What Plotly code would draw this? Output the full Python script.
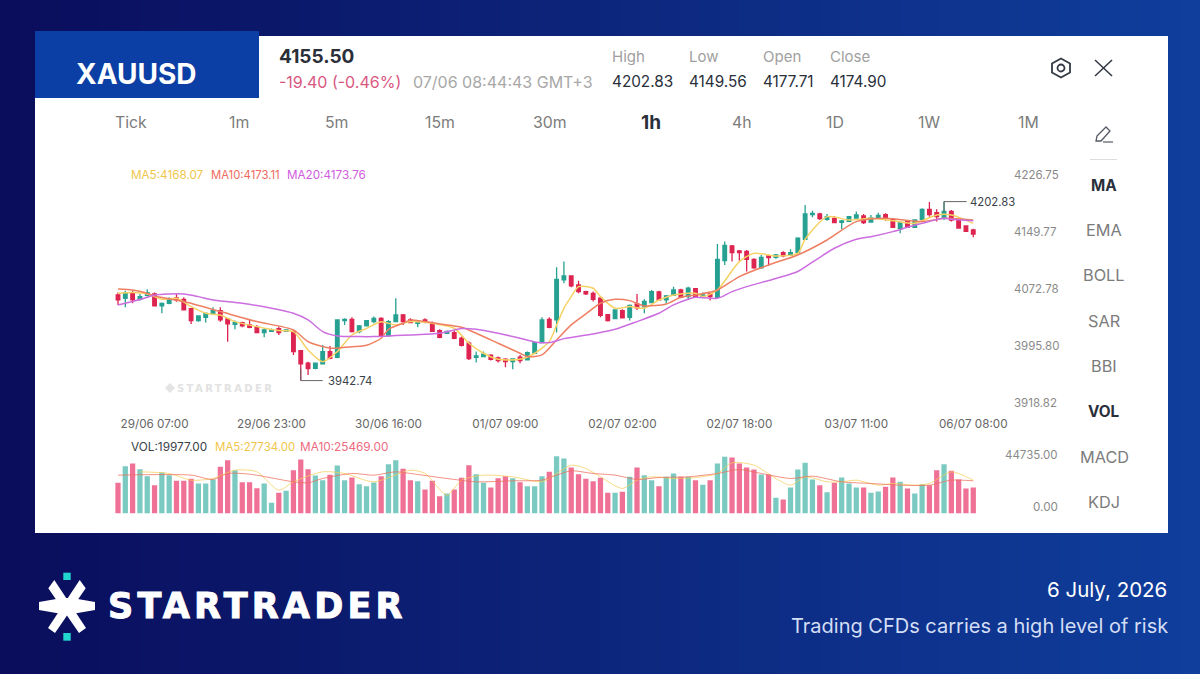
import plotly.graph_objects as go

# ---------- data ----------
opens = [4064.7,4060.2,4067.0,4058.9,4064.3,4066.1,4049.9,4053.5,4060.7,4058.9,4046.3,4030.1,4034.6,4039.1,4043.6,4032.3,4025.1,4027.4,4024.2,4021.1,
4013.9,4015.7,4019.3,4015.7,4015.2,3989.6,3972.5,3965.7,3971.6,3988.2,3980.6,4030.1,4031.9,4015.2,4022.9,4028.7,4033.2,4009.4,4028.7,4037.7,
4031.0,4026.5,4031.0,4026.5,4016.6,4013.0,4013.9,4006.3,3999.5,3980.6,3981.5,3983.3,3979.7,3977.9,3974.8,3980.6,3977.0,3986.0,4000.4,4031.9,
4031.0,4085.0,4090.4,4078.3,4069.3,4067.0,4060.3,4038.2,4032.8,4043.6,4034.6,4052.6,4049.0,4054.4,4068.8,4058.0,4064.3,4071.5,4062.5,4073.3,
4062.5,4066.1,4061.6,4111.1,4130.9,4124.2,4123.7,4112.9,4101.2,4117.4,4115.6,4121.9,4118.3,4121.9,4139.9,4173.2,4174.1,4166.9,4168.3,4162.9,
4164.2,4168.7,4171.4,4163.3,4168.7,4173.2,4166.9,4154.8,4163.8,4156.1,4166.9,4180.4,4175.9,4169.6,4177.7,4166.0,4157.9,4152.5]
highs = [4067.9,4070.6,4070.6,4066.1,4072.4,4067.9,4054.4,4061.6,4066.1,4061.6,4047.0,4036.4,4040.9,4048.1,4048.1,4033.2,4030.1,4028.7,4031.0,4024.2,
4019.7,4019.3,4022.0,4018.4,4017.5,3990.5,3974.7,3973.4,3997.2,3995.9,4031.9,4033.2,4034.6,4024.2,4031.0,4035.5,4034.6,4031.0,4060.2,4039.1,
4033.3,4031.0,4033.3,4028.8,4018.4,4016.6,4016.6,4008.5,4001.8,3988.3,3988.3,3984.7,3981.5,3979.3,3979.3,3983.8,3988.3,4001.8,4034.6,4034.6,
4102.1,4109.8,4091.3,4084.1,4070.6,4069.3,4063.4,4039.1,4045.4,4045.4,4051.7,4066.1,4058.9,4071.5,4070.6,4064.8,4076.0,4073.3,4076.0,4074.2,
4067.9,4067.9,4133.6,4136.8,4132.3,4125.5,4125.5,4114.3,4118.8,4119.2,4120.1,4123.7,4126.4,4142.6,4186.3,4178.6,4175.9,4174.1,4171.4,4166.0,
4171.4,4177.3,4174.1,4172.8,4175.9,4175.0,4168.7,4163.8,4165.1,4166.9,4181.8,4190.3,4180.4,4190.8,4179.5,4167.8,4158.8,4154.3]
lows = [4051.2,4048.1,4053.5,4057.1,4062.5,4049.0,4040.0,4052.1,4055.7,4043.6,4025.6,4028.7,4027.4,4038.2,4028.7,4001.7,4018.4,4021.1,4019.7,4013.0,
4007.6,4014.8,4010.7,4014.8,3983.7,3949.1,3956.7,3964.4,3970.7,3977.9,3979.2,4024.2,4013.9,4013.0,4022.0,4026.5,4008.5,4008.5,4027.8,4024.2,
4026.5,4021.1,4026.5,4014.8,4006.3,4012.1,4004.9,3995.0,3977.0,3973.4,3980.6,3976.1,3973.4,3967.1,3964.4,3972.5,3976.1,3985.1,3999.5,4019.8,
4013.9,4080.5,4075.1,4067.0,4064.8,4055.8,4034.6,4028.8,4031.9,4032.8,4030.1,4044.5,4040.0,4053.5,4057.1,4053.5,4063.4,4060.3,4058.9,4061.6,
4060.3,4057.1,4059.8,4105.3,4109.8,4111.1,4096.3,4100.3,4100.3,4103.9,4113.8,4115.6,4117.4,4121.0,4139.0,4169.6,4166.0,4165.1,4161.5,4153.4,
4163.3,4167.8,4160.6,4162.4,4167.8,4165.1,4155.2,4148.0,4155.2,4155.2,4166.0,4170.5,4163.8,4166.0,4163.8,4154.3,4149.8,4142.6]
closes = [4058.0,4067.9,4058.0,4062.5,4067.9,4049.9,4053.5,4058.9,4058.0,4044.5,4030.1,4036.4,4040.0,4043.6,4031.0,4025.6,4027.8,4022.9,4021.1,4013.9,
4017.5,4017.5,4013.9,4017.5,3988.2,3971.6,3965.3,3972.5,3988.2,3979.2,4031.0,4031.9,4015.2,4022.9,4030.1,4033.2,4009.4,4028.7,4037.7,4028.7,
4027.4,4030.1,4028.3,4015.7,4007.6,4015.7,4006.3,3996.8,3978.8,3982.4,3984.7,3977.9,3976.1,3974.8,3978.4,3976.1,3986.9,4000.4,4031.0,4021.1,
4085.9,4090.4,4076.9,4069.3,4066.1,4058.9,4037.3,4030.1,4044.5,4033.7,4050.8,4047.2,4056.2,4069.3,4058.0,4063.4,4071.5,4061.6,4073.8,4062.5,
4064.8,4062.5,4112.9,4131.8,4121.9,4121.9,4112.9,4101.2,4115.6,4115.2,4118.8,4117.4,4121.9,4141.3,4174.1,4175.0,4167.8,4170.5,4162.4,4164.7,
4170.5,4172.8,4162.4,4168.7,4172.3,4168.7,4156.1,4162.9,4156.1,4166.0,4180.4,4173.2,4170.5,4177.7,4166.0,4155.2,4150.7,4147.1]
volumes = [23451,36196,38235,33900,28549,21667,31353,29314,24980,24980,26510,22941,22941,26000,35686,40784,33137,23961,23961,19372,
22941,8157,15804,17333,33137,41294,33902,29059,25490,29569,36706,25490,27529,22431,20902,23706,28549,37725,40784,34157,
25490,24725,18353,24980,13255,15294,18353,27275,36961,30078,23451,19882,27020,28549,27020,23961,20902,20902,28549,31863,
43843,42059,35176,30078,26510,24725,27275,15804,15804,16569,28039,35176,29314,25490,20902,28039,30588,28039,28039,25490,
21921,25490,38235,43333,42824,38235,35176,33647,29824,29824,11980,10706,19882,33647,38745,26000,21667,16314,23451,27529,
22941,19882,19882,15804,16824,20392,27529,24216,19118,15294,22431,21667,33137,37725,32627,26000,19118,19977]

ma5_idx = [0,2,4,6,8,10,12,14,16,19,22,24,26,28,30,32,34,36,38,40,43,46,48,50,52,55,57,59,60,61,62,63,65,66,68,70,72,74,76,79,80,82,85,87,90,93,94,97,100,103,106,109,112,114,117]
ma5_val = [4067.0,4067.9,4066.1,4058.9,4060.2,4049.0,4040.0,4037.7,4028.7,4022.0,4016.6,4015.2,3990.5,3974.7,3988.2,4010.7,4019.7,4028.7,4024.2,4028.8,4026.5,4019.8,3999.5,3986.0,3977.9,3977.9,3986.0,4001.7,4024.0,4046.7,4062.5,4076.0,4073.8,4062.5,4046.8,4049.0,4046.8,4058.0,4064.8,4067.0,4062.5,4071.5,4109.8,4121.0,4117.4,4121.0,4139.9,4170.5,4166.0,4168.3,4165.1,4161.5,4172.8,4172.8,4161.5]
ma10_idx = [0,2,4,5,9,14,19,24,26,29,31,34,36,37,39,40,42,44,47,49,52,55,56,58,60,62,64,66,68,70,72,75,77,79,82,85,89,93,97,101,105,110,113,117]
ma10_val = [4072.8,4071.5,4067.0,4063.4,4055.8,4042.3,4028.8,4017.5,4001.8,3992.8,3994.1,3996.8,4006.3,4018.4,4026.5,4031.0,4028.8,4025.6,4021.1,4013.0,3999.5,3986.0,3981.5,3983.8,4004.0,4024.3,4039.1,4053.5,4058.9,4057.1,4049.9,4052.6,4061.6,4064.8,4071.5,4089.5,4105.3,4118.8,4139.0,4163.8,4168.3,4163.8,4168.3,4166.0]
ma20_idx = [0,2,4,5,9,11,13,17,21,24,26,28,30,33,35,38,40,44,47,49,52,55,57,59,61,65,68,71,74,76,78,79,82,84,86,90,93,95,98,101,103,106,108,110,113,114,117]
ma20_val = [4051.3,4055.8,4061.6,4064.8,4066.1,4062.5,4058.0,4053.5,4046.8,4040.0,4031.0,4015.3,4009.4,4008.5,4008.5,4009.9,4010.8,4013.0,4019.3,4018.4,4013.0,4006.3,4001.3,4000.4,4005.8,4012.1,4018.4,4028.8,4040.0,4051.3,4058.9,4061.6,4060.3,4069.3,4076.0,4087.0,4096.5,4109.0,4127.8,4139.9,4143.5,4150.3,4156.1,4161.5,4168.3,4166.9,4165.1]

vma5_idx = [3,7,10,13,16,19,22,24,28,31,35,40,42,45,47,50,54,58,60,62,64,66,69,71,73,76,79,82,84,87,90,92,94,97,99,101,104,106,109,111,114,117]
vma5_val = [31875,30600,25500,26775,33150,31875,17850,24225,31875,30600,24225,33150,30600,14025,25500,29325,28050,24225,30600,36975,34425,28050,19125,25500,28050,26775,27540,30600,38760,36975,26775,21675,28050,24225,24225,25500,21675,22950,21675,22950,31875,25500]
vma10_idx = [0,10,13,15,18,24,26,28,32,35,38,40,45,49,54,58,60,62,65,68,71,74,78,82,85,88,92,95,99,103,107,111,114,117]
vma10_val = [29325,29325,26010,30600,30090,24225,23460,26775,30600,29325,31875,30600,26775,24225,24990,25500,29325,32640,30600,29325,26010,27540,28050,30600,33660,30600,26775,28560,24225,22950,21675,21675,25500,24990]

price_ticks = [4226.75,4149.77,4072.78,3995.80,3918.82]
vol_top_tick = 44735
time_tick_idx = [5,21,37,53,69,85,101,117]
time_labels = ["29/06 07:00","29/06 23:00","30/06 16:00","01/07 09:00","02/07 02:00","02/07 18:00","03/07 11:00","06/07 08:00"]
periods = ["Tick","1m","5m","15m","30m","1h","4h","1D","1W","1M"]
indicators = ["MA","EMA","BOLL","SAR","BBI","VOL","MACD","KDJ"]

# ---------- styling / layout helpers ----------
W, H = 1200, 674
FONT = "Inter"
TEAL, RED = "#26a191", "#dd2450"
def px(x): return x / W
def py(y): return 1 - y / H

x_idx = list(range(len(opens)))
C_YEL, C_ORG, C_PUR = "#f6d264", "#ee7f62", "#cc6ee0"

fig = go.Figure()
fig.add_trace(go.Candlestick(x=x_idx, open=opens, high=highs, low=lows, close=closes, xaxis="x", yaxis="y",
    increasing=dict(line=dict(color=TEAL, width=1.3), fillcolor=TEAL),
    decreasing=dict(line=dict(color=RED, width=1.3), fillcolor=RED),
    whiskerwidth=0, hoverinfo="skip"))
for xs, ys, c in [(ma5_idx, ma5_val, C_YEL), (ma10_idx, ma10_val, C_ORG), (ma20_idx, ma20_val, C_PUR)]:
    fig.add_trace(go.Scatter(x=xs, y=ys, mode="lines", line=dict(color=c, width=1.5, shape="spline", smoothing=0.7),
                             xaxis="x", yaxis="y", hoverinfo="skip"))
# max / min tags
fig.add_trace(go.Scatter(x=[25,25,28], y=[3965,lows[25],lows[25]], mode="lines", line=dict(color="#666", width=1), xaxis="x", yaxis="y", hoverinfo="skip"))
fig.add_trace(go.Scatter(x=[113,113,116.1], y=[4177,highs[113],highs[113]], mode="lines", line=dict(color="#666", width=1), xaxis="x", yaxis="y", hoverinfo="skip"))

vol_colors = ["rgba(42,170,155,0.62)" if c >= o else "rgba(233,60,110,0.72)" for o, c in zip(opens, closes)]
fig.add_trace(go.Bar(x=x_idx, y=volumes, marker=dict(color=vol_colors, line=dict(width=0)), width=0.72, xaxis="x2", yaxis="y2", hoverinfo="skip"))
for xs, ys, c in [(vma5_idx, vma5_val, "rgba(246,205,90,0.75)"), (vma10_idx, vma10_val, "rgba(238,110,90,0.75)")]:
    fig.add_trace(go.Scatter(x=xs, y=ys, mode="lines", line=dict(color=c, width=1, shape="spline", smoothing=0.7), xaxis="x2", yaxis="y2", hoverinfo="skip"))

# --- shapes ---
shapes = []
def rect(x0, y0, x1, y1, color):
    shapes.append(dict(type="rect", xref="paper", yref="paper", x0=px(x0), x1=px(x1), y0=py(y0), y1=py(y1),
                       fillcolor=color, line=dict(width=0), layer="below"))
def path(points, fill=None, line=None, lw=0):
    d = "M" + " L".join(f"{px(a):.5f},{py(b):.5f}" for a, b in points) + (" Z" if fill else "")
    shapes.append(dict(type="path", xref="paper", yref="paper", path=d, fillcolor=fill or "rgba(0,0,0,0)",
                       line=dict(color=line or "rgba(0,0,0,0)", width=lw), layer="below"))
L, R = (10, 13, 92), (15, 62, 156)
N = 60
for k in range(N):
    t = k / (N - 1)
    c = tuple(round(a + (b - a) * t) for a, b in zip(L, R))
    rect(W * k / N, 0, W * (k + 1) / N + 1, H, f"rgb{c}")
rect(35, 36, 1168, 533, "#ffffff")
rect(35, 31, 259, 98, "#0c3fa5")
rect(1090, 159, 1117, 160, "#dddddd")
# hexagon settings + close icons
path([(1061,58.5),(1070,63.5),(1070,72.5),(1061,77.5),(1052,72.5),(1052,63.5)], fill="#ffffff", line="#333a44", lw=1.8)
shapes.append(dict(type="circle", xref="paper", yref="paper", x0=px(1057.5), x1=px(1064.5), y0=py(71.5), y1=py(64.5),
                   line=dict(color="#333a44", width=1.8), layer="below"))
path([(1095,60),(1112,76)], line="#333a44", lw=1.6)
path([(1112,60),(1095,76)], line="#333a44", lw=1.6)
# pencil icon
path([(1097,136),(1106,127),(1110,131),(1101,141),(1096,141)], fill="#ffffff", line="#555b66", lw=1.3)
path([(1103,142),(1113,142)], line="#555b66", lw=1.2)
# logo
path([(39,602),(62,598),(72,598),(95,602),(95,610),(72,614),(62,614),(39,610)], fill="#ffffff")
path([(48.3,588.3),(54.3,580),(86,628),(79,633)], fill="#ffffff")
path([(85.7,588.3),(79.7,580),(48,628),(55,633)], fill="#ffffff")
rect(63.3, 572.7, 70.7, 580, "#22d6d0")
rect(63.3, 633, 70.7, 640.7, "#22d6d0")
# watermark glyph
path([(165,388),(170,383),(175,388),(170,393)], fill="#e4e4e4")

# --- annotations ---
ann = []
def text(x, y, s, size=15, color="#7c7c7c", anchor="left", weight=None, family=FONT):
    ann.append(dict(xref="paper", yref="paper", x=px(x), y=py(y), text=f"<b>{s}</b>" if weight else s, showarrow=False,
                    xanchor=anchor, yanchor="middle", align=anchor,
                    font=dict(size=size, color=color, family=family), borderpad=0, borderwidth=0))
text(136, 74, "XAUUSD", 28, "#ffffff", "center", weight=True)
text(279, 57, "4155.50", 19, "#2a2f3a", weight=True)
text(279, 82, "-19.40 (-0.46%)", 16, "#d9577f")
text(413, 82, "07/06 08:44:43 GMT+3", 16, "#a8a8a8")
for xx, h, v in [(612,"High","4202.83"),(689,"Low","4149.56"),(763,"Open","4177.71"),(830,"Close","4174.90")]:
    text(xx, 57, h, 15, "#a0a0a0")
    text(xx, 82, v, 15.3, "#2a2f3a")
for cx_, p in zip([131,239,336,440,550,651,742,835,929,1028], periods):
    if p == "1h":
        text(cx_, 122, p, 19, "#2a2f3a", "center", weight=True)
    else:
        text(cx_, 122, p, 15.8, "#7c7c7c", "center")
for cy_, m in zip([185,230,275,321,366,411,457,502], indicators):
    if m in ("MA", "VOL"):
        text(1104, cy_, m, 15.3, "#2a2f3a", "center", weight=True)
    else:
        text(1104, cy_, m, 16.3, "#7c7c7c", "center")
text(131, 175, "MA5:4168.07", 11.7, "#efc64a")
text(211, 175, "MA10:4173.11", 11.3, "#ee6a5c")
text(287, 175, "MA20:4173.76", 11.7, "#d05ce0")
text(131, 447, "VOL:19977.00", 11.8, "#3a3f4a")
text(215, 447, "MA5:27734.00", 11.5, "#efc64a")
text(300, 447, "MA10:25469.00", 11.8, "#ee6a80")
text(1033, 507, "0.00", 11.7, "#8a8a8a", "left")
text(177, 388, "STARTRADER", 10, "#e2e2e2", weight=True, family="DejaVu Sans")
ann.append(dict(xref="x", yref="y", x=28.5, y=lows[25], text="3942.74", showarrow=False, xanchor="left", yanchor="middle",
                font=dict(size=11.3, color="#3a3f4a", family=FONT)))
ann.append(dict(xref="x", yref="y", x=116.3, y=highs[113], text="4202.83", showarrow=False, xanchor="left", yanchor="middle",
                font=dict(size=11.3, color="#3a3f4a", family=FONT)))
text(108, 606, "STARTRADER", 35, "#ffffff", weight=True, family="DejaVu Sans")
text(1167, 589, "6 July, 2026", 20.5, "#ffffff", "right")
text(1168, 626, "Trading CFDs carries a high level of risk", 20, "#d4def5", "right")

xr = [(115 - 118) / 7.31, (980 - 118) / 7.31]
price_at = lambda y: 4463.09 - 1.3505 * y
axis_font = dict(size=11.5, color="#8a8a8a", family=FONT)
fig.update_layout(
    width=W, height=H, autosize=False, margin=dict(l=0, r=0, t=0, b=0, autoexpand=False),
    paper_bgcolor="#0c1f78", plot_bgcolor="rgba(0,0,0,0)", showlegend=False, font=dict(family=FONT),
    shapes=shapes, annotations=ann, hovermode=False,
    xaxis=dict(domain=[px(115), px(980)], range=xr, anchor="y", showgrid=False, zeroline=False, showline=False,
               rangeslider=dict(visible=False), tickmode="array", tickvals=time_tick_idx, ticktext=time_labels,
               ticks="", tickfont=dict(size=11.7, color="#666", family=FONT), tickangle=0),
    yaxis=dict(domain=[py(415), py(160)], range=[price_at(415), price_at(160)], anchor="free", position=px(1013), side="right",
               showgrid=False, zeroline=False, showline=False, tickmode="array", tickvals=price_ticks,
               ticktext=[f"{v:.2f}" for v in price_ticks], ticks="", tickfont=axis_font),
    xaxis2=dict(domain=[px(115), px(980)], range=xr, anchor="y2", visible=False),
    yaxis2=dict(domain=[py(513.5), py(450)], range=[0, 63.5 * 764.7], anchor="free", position=px(1004), side="right",
                showgrid=False, zeroline=False, showline=False, tickmode="array", tickvals=[vol_top_tick],
                ticktext=[f"{vol_top_tick:.2f}"], ticks="", tickfont=axis_font),
    bargap=0.28,
)
spacing_js = """
document.body.style.margin='0';document.documentElement.style.overflow='hidden';
document.querySelectorAll('.annotation-text').forEach(function(t){
  if(t.textContent==='STARTRADER'){
    var big = parseFloat(t.style.fontSize) > 20;
    t.style.letterSpacing = big ? '4.2px' : '2.4px';
    if(big){ t.style.stroke = '#ffffff'; t.style.strokeWidth = '1px'; }
  }
});
"""
fig.write_html("out.html", config={"responsive": False, "displayModeBar": False}, default_width="1200px", default_height="674px",
               post_script=spacing_js)
